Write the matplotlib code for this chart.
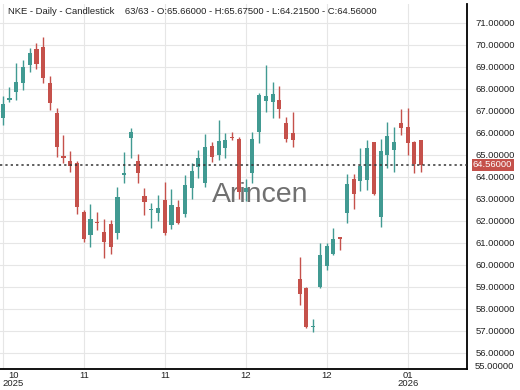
# NKE daily candlestick chart
import matplotlib
matplotlib.use("Agg")
import matplotlib.pyplot as plt
from matplotlib.transforms import blended_transform_factory

plt.rcParams['font.family'] = ['Liberation Sans', 'DejaVu Sans']

opens = [66.67, 67.50, 67.85, 68.29, 69.09, 69.80, 69.92, 68.26, 66.90, 64.95,
         64.73, 64.65, 62.42, 61.36, 61.95, 61.49, 61.85, 61.44, 64.08, 65.76,
         64.73, 63.14, 62.48, 62.35, 62.95, 61.82, 62.65, 62.32, 63.48, 64.47,
         63.71, 65.41, 65.00, 65.30, 65.80, 65.71, 63.30, 64.17, 66.06, 67.47,
         67.42, 67.50, 66.44, 66.00, 59.35, 58.94, 57.18, 58.99, 59.95, 60.50,
         61.25, 62.38, 63.91, 63.83, 63.86, 65.58, 62.17, 65.00, 65.23, 66.47,
         66.29, 65.60, 65.66]
highs = [67.68, 68.10, 69.20, 69.32, 69.85, 70.08, 70.35, 68.60, 67.12, 65.90,
         65.20, 64.72, 62.50, 62.77, 62.42, 62.08, 62.05, 63.53, 65.15, 66.21,
         65.05, 63.48, 62.80, 63.18, 63.79, 63.44, 62.95, 64.09, 64.62, 65.23,
         65.95, 65.60, 66.59, 66.00, 66.06, 65.80, 63.90, 66.06, 67.80, 69.09,
         68.30, 68.15, 66.74, 66.97, 60.38, 59.00, 57.53, 60.99, 60.99, 61.67,
         61.28, 64.14, 64.14, 65.30, 65.68, 65.60, 65.71, 66.51, 66.29, 67.07,
         67.12, 65.62, 65.675]
lows = [66.36, 67.40, 67.50, 67.95, 68.75, 68.90, 68.26, 67.05, 64.92, 64.62,
        64.22, 62.30, 61.05, 60.83, 61.59, 60.30, 60.50, 61.20, 63.71, 64.85,
        63.71, 62.27, 61.67, 62.00, 61.36, 61.62, 61.88, 62.20, 62.99, 63.94,
        63.56, 64.70, 64.77, 64.85, 65.68, 63.00, 62.90, 63.71, 65.53, 66.95,
        66.67, 66.70, 65.60, 65.35, 58.18, 57.12, 56.97, 58.95, 59.77, 60.45,
        60.68, 61.90, 62.53, 63.38, 63.41, 63.18, 61.71, 64.40, 64.24, 65.91,
        65.00, 64.20, 64.215]
closes = [67.30, 67.58, 68.30, 69.01, 69.62, 69.12, 68.50, 67.38, 65.35, 64.88,
          64.50, 62.65, 61.17, 62.08, 61.90, 61.03, 60.80, 63.10, 64.17, 66.03,
          64.20, 62.88, 62.52, 62.60, 61.44, 62.73, 61.90, 63.64, 64.29, 64.85,
          65.38, 64.92, 65.64, 65.68, 65.75, 63.30, 63.50, 65.73, 67.73, 67.70,
          67.76, 67.08, 65.71, 65.68, 58.67, 57.17, 57.24, 60.45, 60.86, 61.17,
          61.20, 63.68, 63.23, 64.50, 65.30, 63.21, 65.20, 65.86, 65.58, 66.24,
          65.53, 64.60, 64.56]

x_tick_pos = [0, 12, 24, 36, 48, 60]
x_tick_labels = ["10\n2025", "11", "11", "12", "12", "01\n2026"]
y_ticks = list(range(56, 72))
last_close = closes[-1]
title = ("NKE - Daily - Candlestick    63/63 - O:65.66000 - H:65.67500 - "
         "L:64.21500 - C:64.56000")

up_color = "#419a92"
down_color = "#c5514b"

fig = plt.figure(figsize=(5.2, 3.9), dpi=100)
ax = fig.add_axes([0, 21 / 390, 467 / 520, 365 / 390])

idx = list(range(len(closes)))
colors = [up_color if c >= o else down_color for o, c in zip(opens, closes)]
bottoms = [min(o, c) for o, c in zip(opens, closes)]
heights = [max(abs(c - o), 0.06) for o, c in zip(opens, closes)]

ax.vlines(idx, lows, highs, colors=colors, linewidth=1, zorder=3)
ax.bar(idx, heights, bottom=bottoms, width=0.62, color=colors, zorder=4)

ax.axhline(last_close, color="#333333", linestyle=(0, (1.5, 2)), linewidth=1.1, zorder=5)

ax.set_xlim(-0.4, 68.8)
ax.set_ylim(55.27, 71.86)

ax.set_xticks(x_tick_pos)
ax.set_xticklabels(x_tick_labels, linespacing=0.85, multialignment="center")
ax.xaxis.get_majorticklabels()[0].set_horizontalalignment("left")
ax.set_yticks(y_ticks)
ax.set_yticklabels([f"{v:.5f}" for v in y_ticks])
ax.yaxis.tick_right()
ax.tick_params(axis="both", length=0, labelsize=6.8, colors="#222222")
ax.tick_params(axis="y", pad=6)
ax.tick_params(axis="x", pad=1.5)
for lab in ax.get_yticklabels():
    lab.set_horizontalalignment("left")

ax.grid(True, color="#e6e6e6", linewidth=0.8, zorder=0)
ax.set_axisbelow(True)

for side in ["left", "top"]:
    ax.spines[side].set_visible(False)
ax.spines["right"].set_linewidth(1.3)
ax.spines["bottom"].set_linewidth(1.3)

trans = blended_transform_factory(ax.transAxes, ax.transData)
ax.text(1.0171, 55.39, "55.00000", transform=trans, fontsize=6.8,
        color="#222222", va="center", ha="left", clip_on=False)
ax.text(1.0128, last_close, f"{last_close:.5f}", transform=trans, fontsize=6.8,
        color="white", va="center", ha="left", clip_on=False, zorder=6,
        bbox=dict(boxstyle="square,pad=0.15", facecolor=down_color, edgecolor="none"))

ax.text(0.557, 63.2, "Arincen", transform=trans, fontsize=20.5,
        color="#707070", ha="center", va="center", zorder=2)

fig.text(8 / 520, 1 - 12 / 390, title, fontsize=6.8, color="#222222",
         ha="left", va="center")

fig.savefig("out.png", dpi=100)
